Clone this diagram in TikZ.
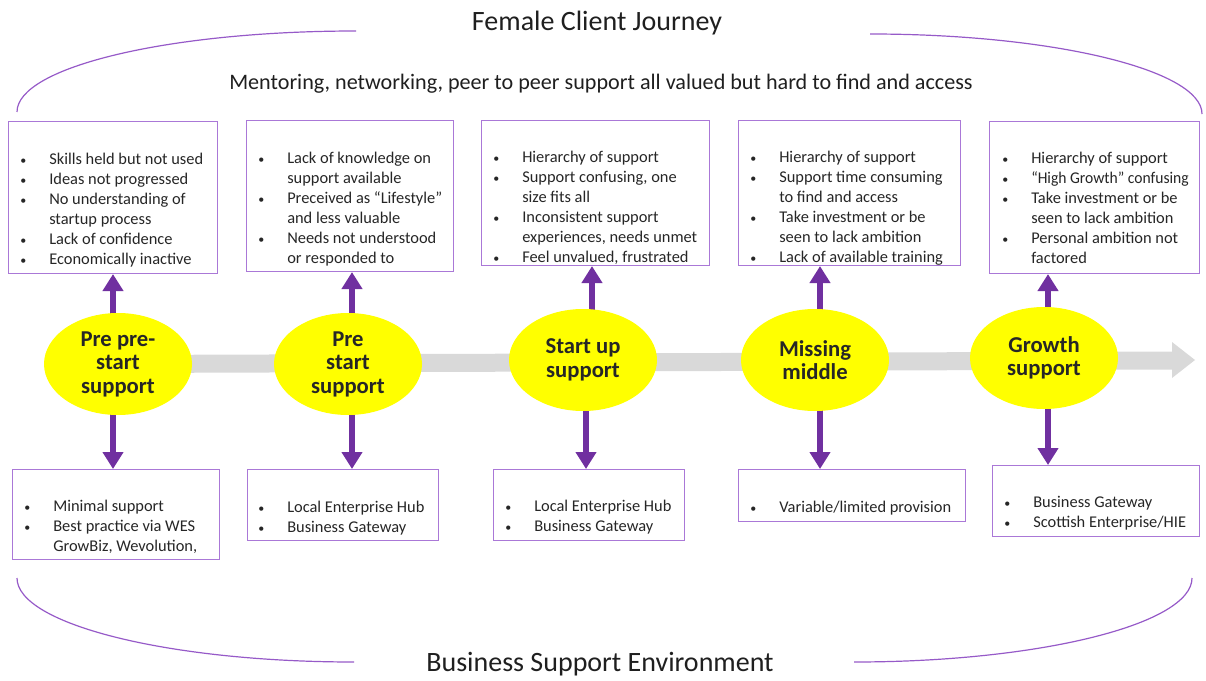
\documentclass[tikz,border=0pt]{standalone}
\usepackage{fontspec}
\setmainfont{Carlito}
\usetikzlibrary{arrows.meta,backgrounds,shapes.geometric}
\newlength\pxu \setlength\pxu{0.75pt}
\definecolor{boxc}{RGB}{170,120,215}
\definecolor{arcc}{RGB}{150,90,200}
\definecolor{parrc}{RGB}{112,48,160}
\definecolor{greyc}{RGB}{217,217,217}
\definecolor{ylw}{RGB}{255,255,0}
\definecolor{txtc}{RGB}{38,38,38}
\newcommand\bl{\strut\makebox[21.75pt][l]{\fontsize{9}{9}\selectfont\textbullet}}
\newcommand\ct{\strut\hspace*{21.75pt}}
\tikzset{
  boxs/.style={draw=boxc, line width=0.8pt, fill=white, inner sep=0pt, anchor=north west},
  lst/.style={anchor=north west, inner sep=0pt, align=left, text=txtc, font=\fontsize{12.3}{15}\selectfont},
  ell/.style={ellipse, fill=ylw, minimum width=148\pxu, minimum height=102\pxu, inner sep=0pt, align=center, text=txtc, font=\fontsize{17}{17.6}\selectfont\bfseries},
  parr/.style={draw=parrc, line width=4.9pt, -{Triangle[length=12.75pt,width=15pt]}},
  arcs/.style={draw=arcc, line width=0.9pt},
  ttl/.style={anchor=base, inner sep=0pt, text=black!88, font=\fontsize{21}{25}\selectfont}
}
\begin{document}
\begin{tikzpicture}[x=0.75pt,y=-0.75pt]
\useasboundingbox (0,0) rectangle (1206,681);
% titles
\node[ttl] (title) at (597,31) {Female Client Journey};
\node[ttl, font=\fontsize{16.6}{19}\selectfont] (sub) at (601,90) {Mentoring, networking, peer to peer support all valued but hard to find and access};
\node[ttl] (env) at (600,671) {Business Support Environment};
% arcs
\draw[arcs] (17,112) .. controls (17,67) and (169,31) .. (356,31);
\draw[arcs] (870,34) .. controls (1053,34) and (1202,70) .. (1202,114);
\draw[arcs] (17,578) .. controls (17,624) and (168,662) .. (354,662);
\draw[arcs] (854,662) .. controls (1040,662) and (1192,624) .. (1192,578);
% top boxes
\node[boxs, minimum width=209\pxu, minimum height=152\pxu] (t1) at (8,121) {};
\node[boxs, minimum width=207\pxu, minimum height=151\pxu] (t2) at (246,120) {};
\node[boxs, minimum width=228\pxu, minimum height=145\pxu] (t3) at (481,120) {};
\node[boxs, minimum width=222\pxu, minimum height=145\pxu] (t4) at (738,120) {};
\node[boxs, minimum width=210\pxu, minimum height=152\pxu] (t5) at (989,121) {};
\node[lst] (tx1) at (20,150) {\bl Skills held but not used\\\bl Ideas not progressed\\\bl No understanding of\\\ct startup process\\\bl Lack of confidence\\\bl Economically inactive};
\node[lst] (tx2) at (258,149) {\bl Lack of knowledge on\\\ct support available\\\bl Preceived as “Lifestyle”\\\ct and less valuable\\\bl Needs not understood\\\ct or responded to};
\node[lst] (tx3) at (493,148) {\bl Hierarchy of support\\\bl Support confusing, one\\\ct size fits all\\\bl Inconsistent support\\\ct experiences, needs unmet\\\bl Feel unvalued, frustrated};
\node[lst] (tx4) at (750,148) {\bl Hierarchy of support\\\bl Support time consuming\\\ct to find and access\\\bl Take investment or be\\\ct seen to lack ambition\\\bl Lack of available training};
\node[lst] (tx5) at (1002,149) {\bl Hierarchy of support\\\bl \scalebox{0.95}[1]{“High Growth” confusing}\\\bl Take investment or be\\\ct seen to lack ambition\\\bl Personal ambition not\\\ct factored};
% bottom boxes
\node[boxs, minimum width=207\pxu, minimum height=90\pxu] (b1) at (12,469) {};
\node[boxs, minimum width=191\pxu, minimum height=71\pxu] (b2) at (247,469) {};
\node[boxs, minimum width=191\pxu, minimum height=71\pxu] (b3) at (493,469) {};
\node[boxs, minimum width=227\pxu, minimum height=52\pxu] (b4) at (738,469) {};
\node[boxs, minimum width=207\pxu, minimum height=71\pxu] (b5) at (992,465) {};
\node[lst] (bx1) at (24,497) {\bl Minimal support\\\bl Best practice via WES\\\ct GrowBiz, Wevolution,};
\node[lst] (bx2) at (258,498) {\bl Local Enterprise Hub\\\bl Business Gateway};
\node[lst] (bx3) at (505,497) {\bl Local Enterprise Hub\\\bl Business Gateway};
\node[lst] (bx4) at (750,498) {\bl Variable/limited provision};
\node[lst] (bx5) at (1004,493) {\bl Business Gateway\\\bl Scottish Enterprise/HIE};
% ellipses
\node[ell] (e1) at (118,364) {Pre pre-\\start\\support};
\node[ell] (e2) at (348,364) {Pre\\start\\support};
\node[ell] (e3) at (583,360) {Start up\\support};
\node[ell] (e4) at (815,360) {Missing\\middle};
\node[ell] (e5) at (1044,358) {Growth\\support};
% arrow x positions
\coordinate (ux1) at (113,0); \coordinate (ux2) at (352,0); \coordinate (ux3) at (592,0);
\coordinate (ux4) at (820,0); \coordinate (ux5) at (1048,0);
\coordinate (dx3) at (586,0);
\coordinate (tip) at (1195,360);
\begin{pgfonlayer}{background}
\fill[greyc] (e1.center) ++(0,-9) -- (1172,351.5) -- (1172,342) -- (tip) -- (1172,378) -- (1172,369.5) -- (118,373) -- cycle;
\draw[parr] ([yshift=-3pt]e1.north -| ux1) -- (t1.south -| ux1);
\draw[parr] ([yshift=-3pt]e2.north -| ux2) -- (t2.south -| ux2);
\draw[parr] ([yshift=-3pt]e3.north -| ux3) -- (t3.south -| ux3);
\draw[parr] ([yshift=-3pt]e4.north -| ux4) -- (t4.south -| ux4);
\draw[parr] ([yshift=-3pt]e5.north -| ux5) -- (t5.south -| ux5);
\draw[parr] ([yshift=3pt]e1.south -| ux1) -- (b1.north -| ux1);
\draw[parr] ([yshift=3pt]e2.south -| ux2) -- (b2.north -| ux2);
\draw[parr] ([yshift=3pt]e3.south -| dx3) -- (b3.north -| dx3);
\draw[parr] ([yshift=3pt]e4.south -| ux4) -- (b4.north -| ux4);
\draw[parr] ([yshift=3pt]e5.south -| ux5) -- (b5.north -| ux5);
\end{pgfonlayer}
\end{tikzpicture}
\end{document}
